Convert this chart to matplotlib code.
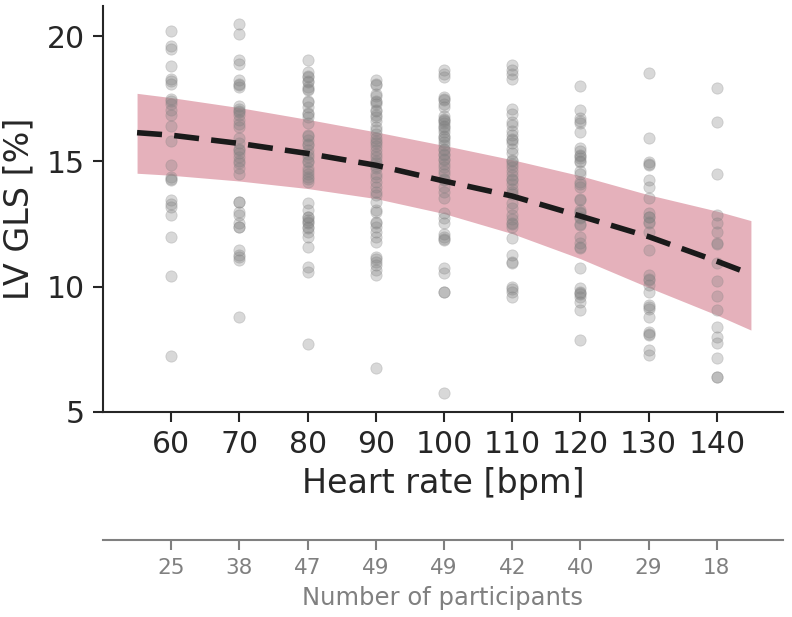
import numpy as np
import matplotlib
matplotlib.use("Agg")
import matplotlib.pyplot as plt

# --- data ---
heart_rates = [60, 70, 80, 90, 100, 110, 120, 130, 140]
n_participants = [25, 38, 47, 49, 49, 42, 40, 29, 18]

gls_60 = [20.2, 19.6, 19.5, 18.8, 18.3, 18.2, 18.1, 17.5, 17.4, 17.3, 17.05, 16.85,
          16.4, 15.8, 14.85, 14.4, 14.3, 14.25, 13.45, 13.3, 13.2, 12.86, 12.0, 10.44, 7.25]
gls_70 = [20.48, 20.08, 19.07, 18.9, 18.24, 18.1, 18.05, 17.98, 17.2, 17.1, 17.0, 16.98,
          16.85, 16.65, 16.5, 16.38, 15.92, 15.72, 15.5, 15.45, 15.32, 15.19, 15.0, 14.92,
          14.72, 14.52, 13.4, 13.39, 12.99, 12.86, 12.53, 12.4, 12.39, 11.46, 11.26, 11.2,
          11.06, 8.8]
gls_80 = [19.04, 18.58, 18.4, 18.38, 18.2, 18.18, 17.98, 17.9, 17.85, 17.4, 17.38, 17.18,
          16.92, 16.9, 16.78, 16.52, 16.05, 16.0, 15.85, 15.7, 15.65, 15.45, 15.3, 15.19,
          15.0, 14.99, 14.72, 14.6, 14.52, 14.4, 14.32, 14.19, 13.33, 13.06, 12.8, 12.79,
          12.66, 12.6, 12.53, 12.4, 12.33, 12.2, 12.0, 11.57, 10.8, 10.6, 7.7]
gls_90 = [18.24, 18.1, 18.05, 17.71, 17.6, 17.4, 17.38, 17.31, 17.05, 17.0, 16.85, 16.78,
          16.6, 16.38, 16.25, 16.1, 15.92, 15.8, 15.72, 15.6, 15.45, 15.3, 15.19, 15.0,
          14.92, 14.8, 14.72, 14.52, 14.4, 14.19, 13.99, 13.8, 13.66, 13.39, 13.06, 12.99,
          12.6, 12.53, 12.39, 12.19, 11.99, 11.79, 11.2, 11.1, 11.0, 10.87, 10.67, 10.47, 6.75]
gls_100 = [18.64, 18.5, 18.38, 17.58, 17.5, 17.45, 17.3, 17.18, 16.8, 16.7, 16.65, 16.6,
           16.52, 16.4, 16.38, 16.3, 16.18, 16.0, 15.98, 15.9, 15.78, 15.65, 15.5, 15.45,
           15.3, 15.25, 15.1, 15.05, 14.9, 14.79, 14.6, 14.52, 14.3, 14.26, 13.99, 13.79,
           13.53, 12.93, 12.73, 12.53, 12.1, 11.99, 11.9, 11.86, 10.73, 10.53, 9.8, 9.8, 5.75]
gls_110 = [18.84, 18.64, 18.5, 18.31, 17.11, 16.9, 16.58, 16.45, 16.2, 16.05, 15.9, 15.85,
           15.72, 15.5, 15.32, 15.05, 15.0, 14.9, 14.79, 14.6, 14.46, 14.3, 14.26, 14.12,
           13.92, 13.8, 13.72, 13.33, 13.13, 12.86, 12.7, 12.53, 12.5, 12.39, 11.93, 11.26,
           11.0, 10.93, 10.0, 9.9, 9.8, 9.6]
gls_120 = [18.0, 17.07, 16.72, 16.6, 16.52, 16.18, 15.52, 15.4, 15.25, 15.2, 15.12, 15.0,
           14.99, 14.6, 14.52, 14.2, 14.12, 13.99, 13.5, 13.46, 13.06, 13.0, 12.93, 12.8,
           12.73, 12.5, 12.46, 11.99, 11.73, 11.6, 11.53, 10.73, 9.93, 9.8, 9.73, 9.7,
           9.6, 9.4, 9.07, 7.87]
gls_130 = [18.54, 15.92, 14.99, 14.9, 14.85, 14.26, 13.99, 13.53, 12.93, 12.8, 12.79,
           12.6, 12.53, 12.19, 11.46, 10.47, 10.3, 10.27, 10.07, 9.8, 9.27, 9.2, 9.13,
           8.8, 8.2, 8.1, 8.07, 7.47, 7.27]
gls_140 = [17.95, 16.56, 14.52, 12.86, 12.53, 12.19, 11.73, 11.7, 10.93, 10.24, 9.64,
           9.07, 8.4, 8.0, 7.74, 7.17, 6.4, 6.39]
gls_by_hr = [gls_60, gls_70, gls_80, gls_90, gls_100, gls_110, gls_120, gls_130, gls_140]

# fitted trend and confidence band
fit_hr = [55, 60, 70, 80, 90, 100, 110, 120, 130, 140, 145]
fit_gls = [16.15, 16.05, 15.72, 15.32, 14.85, 14.22, 13.62, 12.82, 12.0, 11.02, 10.5]
fit_upper = [17.72, 17.55, 17.15, 16.68, 16.18, 15.64, 15.07, 14.43, 13.67, 13.02, 12.64]
fit_lower = [14.53, 14.45, 14.22, 13.92, 13.52, 12.92, 12.12, 11.12, 9.97, 8.87, 8.27]

text_color = '#262626'
grey = '#808080'

fig = plt.figure(figsize=(7.92, 6.17), dpi=100)
ax = fig.add_axes([0.130, 0.3323, 0.8586, 0.6577])

ax.fill_between(fit_hr, fit_lower, fit_upper, color='#e5b1bb', lw=0, zorder=1)
for hr, vals in zip(heart_rates, gls_by_hr):
    ax.scatter(np.full(len(vals), hr), vals, s=66, color='grey', alpha=0.3,
               edgecolors='grey', linewidths=0.6, zorder=2)
ax.plot(fit_hr, fit_gls, color='#1a1a1a', lw=4, ls=(0, (4.5, 2.2)), zorder=3)

ax.set_xlim(50, 149.7)
ax.set_ylim(5, 21.2)
ax.set_xticks(heart_rates)
ax.set_yticks([5, 10, 15, 20])
ax.set_xlabel('Heart rate [bpm]', fontsize=24, color=text_color, labelpad=6)
ax.set_ylabel('LV GLS [%]', fontsize=24, color=text_color, labelpad=8)
ax.tick_params(labelsize=21.5, colors=text_color, length=7, width=1.5, pad=6)
for side in ['top', 'right']:
    ax.spines[side].set_visible(False)
for side in ['left', 'bottom']:
    ax.spines[side].set_linewidth(1.5)
    ax.spines[side].set_color(text_color)

# second axis with participant counts
ax2 = ax.twiny()
ax2.set_xlim(ax.get_xlim())
ax2.xaxis.set_ticks_position('bottom')
ax2.xaxis.set_label_position('bottom')
ax2.spines['bottom'].set_position(('outward', 92))
for side in ['top', 'right', 'left']:
    ax2.spines[side].set_visible(False)
ax2.spines['bottom'].set_color(grey)
ax2.spines['bottom'].set_linewidth(1.5)
ax2.set_xticks(heart_rates)
ax2.set_xticklabels([str(n) for n in n_participants])
ax2.tick_params(axis='x', labelsize=15.5, colors=grey, length=7, width=1.5, pad=6)
ax2.set_xlabel('Number of participants', fontsize=17.5, color=grey, labelpad=6)

fig.savefig('out.png', dpi=100)
